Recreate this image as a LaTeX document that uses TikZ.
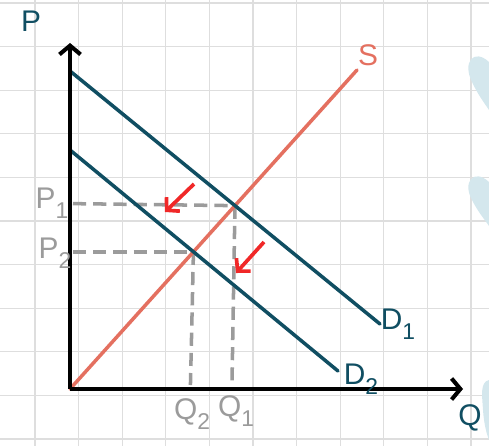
\documentclass[tikz,border=0pt]{standalone}
\usepackage{fontspec}
\setmainfont{Liberation Sans}
\usetikzlibrary{arrows.meta, calc, intersections}
\definecolor{demcol}{RGB}{16,78,98}
\definecolor{supcol}{RGB}{228,112,96}
\definecolor{dashcol}{RGB}{155,155,155}
\definecolor{shiftcol}{RGB}{240,40,40}
\definecolor{gridcol}{RGB}{222,222,222}
\definecolor{markcol}{RGB}{212,231,237}
\newcommand{\lab}[2]{#1\raisebox{-0.35em}{\fontsize{13}{13}\selectfont #2}}

\begin{document}
\begin{tikzpicture}[x=0.02cm, y=-0.02cm,
    axis/.style={line width=2.3pt, -{Straight Barb[length=5pt, width=12pt, line width=2.3pt]}},
    curve/.style={line width=2pt, line cap=round},
    guide/.style={dashcol, line width=2pt, dash pattern=on 7.5pt off 4pt},
    shiftarrow/.style={shiftcol, line width=2.1pt, -{Straight Barb[length=5pt, width=11pt, line width=2.1pt]}},
    txt/.style={font=\fontsize{17}{17}\selectfont, inner sep=0pt}]
    \useasboundingbox (0,0) rectangle (489,446);
    % grid paper
    \foreach \i in {0,...,10} {
        \draw[gridcol, line width=0.7pt] ({35+43.6*\i},0) -- ({35+43.6*\i},446);
        \draw[gridcol, line width=0.7pt] (0,{3+43.6*\i}) -- (489,{3+43.6*\i});
    }
    % watermark pieces at the right edge
    \fill[markcol] (489,62) .. controls (474,48) and (462,62) .. (472,82) .. controls (478,95) and (485,104) .. (489,110) -- cycle;
    \fill[markcol] (489,182) .. controls (474,168) and (462,182) .. (472,200) .. controls (478,212) and (485,220) .. (489,226) -- cycle;
    \fill[markcol] (489,380) .. controls (480,382) and (482,395) .. (483,410) .. controls (484,425) and (487,435) .. (489,440) -- cycle;

    \coordinate (O) at (70,389);
    \coordinate (Ytop) at (70,43);
    \coordinate (Xend) at (463,389);
    \coordinate (D1a) at (70,71);
    \coordinate (D1b) at (380,324);
    \coordinate (D2a) at (70,150);
    \coordinate (D2b) at (338,371);
    \coordinate (Sb) at (357,70);

    \path[name path=s] (O) -- (Sb);
    \path[name path=d1] (D1a) -- (D1b);
    \path[name path=d2] (D2a) -- (D2b);
    \path[name intersections={of=s and d1, by=E1}];
    \path[name intersections={of=s and d2, by=E2}];

    % guides to the axes
    \draw[guide] ($(O |- E1)+(3,-2)$) -- (E1);
    \draw[guide] (E1) -- ($(E1 |- O)+(-3,-4)$);
    \draw[guide] ($(O |- E2)+(3,0)$) -- (E2);
    \draw[guide] (E2) -- ($(E2 |- O)+(-3,-4)$);

    \draw[curve, supcol] (O) -- (Sb);
    \draw[curve, demcol] (D1a) -- (D1b);
    \draw[curve, demcol] (D2a) -- (D2b);

    \draw[axis] (O) -- (Ytop);
    \draw[axis] (O) -- (Xend);

    % shift of demand
    \coordinate (A1s) at (194,184);
    \coordinate (A1e) at (165,212);
    \coordinate (A2s) at (264,242);
    \coordinate (A2e) at (236,273);
    \draw[shiftarrow] (A1s) -- (A1e);
    \draw[shiftarrow] (A2s) -- (A2e);

    \node[txt, demcol] (p) at (31,21) {P};
    \node[txt, demcol] (q) at (470,418) {Q};
    \node[txt, supcol] (s) at (368,55) {S};
    \node[txt, demcol] (d1) at (398,324) {\lab{D}{1}};
    \node[txt, demcol] (d2) at (361,379) {\lab{D}{2}};
    \node[txt, dashcol] (p1) at (52,203) {\lab{P}{1}};
    \node[txt, dashcol] (p2) at (55,253) {\lab{P}{2}};
    \node[txt, dashcol] (q2) at (192,414) {\lab{Q}{2}};
    \node[txt, dashcol] (q1) at (236,411) {\lab{Q}{1}};
\end{tikzpicture}
\end{document}
